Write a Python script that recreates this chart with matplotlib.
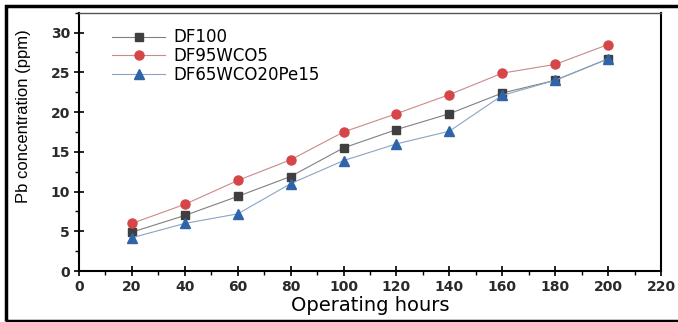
import matplotlib.pyplot as plt
from matplotlib.patches import Rectangle
from matplotlib.ticker import MultipleLocator

plt.rcParams['font.family'] = ['DejaVu Sans']

hours = [20, 40, 60, 80, 100, 120, 140, 160, 180, 200]
df100 = [4.9, 7.0, 9.4, 11.9, 15.5, 17.8, 19.8, 22.4, 24.0, 26.7]
df95wco5 = [6.0, 8.4, 11.4, 14.0, 17.5, 19.8, 22.2, 24.9, 26.0, 28.5]
df65wco20pe15 = [4.2, 6.0, 7.2, 11.0, 13.9, 16.0, 17.6, 22.1, 24.0, 26.7]

fig = plt.figure(figsize=(6.78, 3.22), dpi=100)
ax = fig.add_axes([0.1165, 0.158, 0.8584, 0.8025])

ax.plot(hours, df100, color='#808080', lw=0.8, marker='s', ms=6,
        mfc='#3f3f3f', mec='#3f3f3f', label='DF100')
ax.plot(hours, df95wco5, color='#c98a8a', lw=0.8, marker='o', ms=6.5,
        mfc='#d64548', mec='#d64548', label='DF95WCO5')
ax.plot(hours, df65wco20pe15, color='#8aa4c6', lw=0.8, marker='^', ms=6.5,
        mfc='#2f64a8', mec='#2f64a8', label='DF65WCO20Pe15')

ax.set_xlim(0, 220)
ax.set_ylim(0, 32.5)
ax.xaxis.set_major_locator(MultipleLocator(20))
ax.xaxis.set_minor_locator(MultipleLocator(10))
ax.yaxis.set_major_locator(MultipleLocator(5))
ax.yaxis.set_minor_locator(MultipleLocator(2.5))
ax.tick_params(which='major', direction='inout', length=7, width=1.2,
               labelsize=10, pad=3)
ax.tick_params(which='minor', direction='out', length=3, width=1)
for lab in ax.get_xticklabels() + ax.get_yticklabels():
    lab.set_fontweight('bold')
    lab.set_color('#2a2a2a')

for side in ['left', 'bottom', 'right']:
    ax.spines[side].set_linewidth(1.5)
ax.spines['top'].set_linewidth(1.0)
ax.spines['top'].set_color('#555555')

ax.set_xlabel('Operating hours', fontsize=14, labelpad=1)
ax.set_ylabel('Pb concentration (ppm)', fontsize=12,
              family='Liberation Sans')
ax.yaxis.set_label_coords(-0.083, 0.6)

ax.legend(loc='upper left', frameon=False, fontsize=12, handlelength=3.2,
          handletextpad=0.5, labelspacing=0.05, borderaxespad=0.0,
          bbox_to_anchor=(0.045, 0.965))

fig.patches.append(Rectangle((6 / 678, 1 / 322), 1.02, 1 - 7 / 322,
                             transform=fig.transFigure, fill=False,
                             edgecolor='black', lw=2.5))

fig.savefig('out.png', dpi=100)
